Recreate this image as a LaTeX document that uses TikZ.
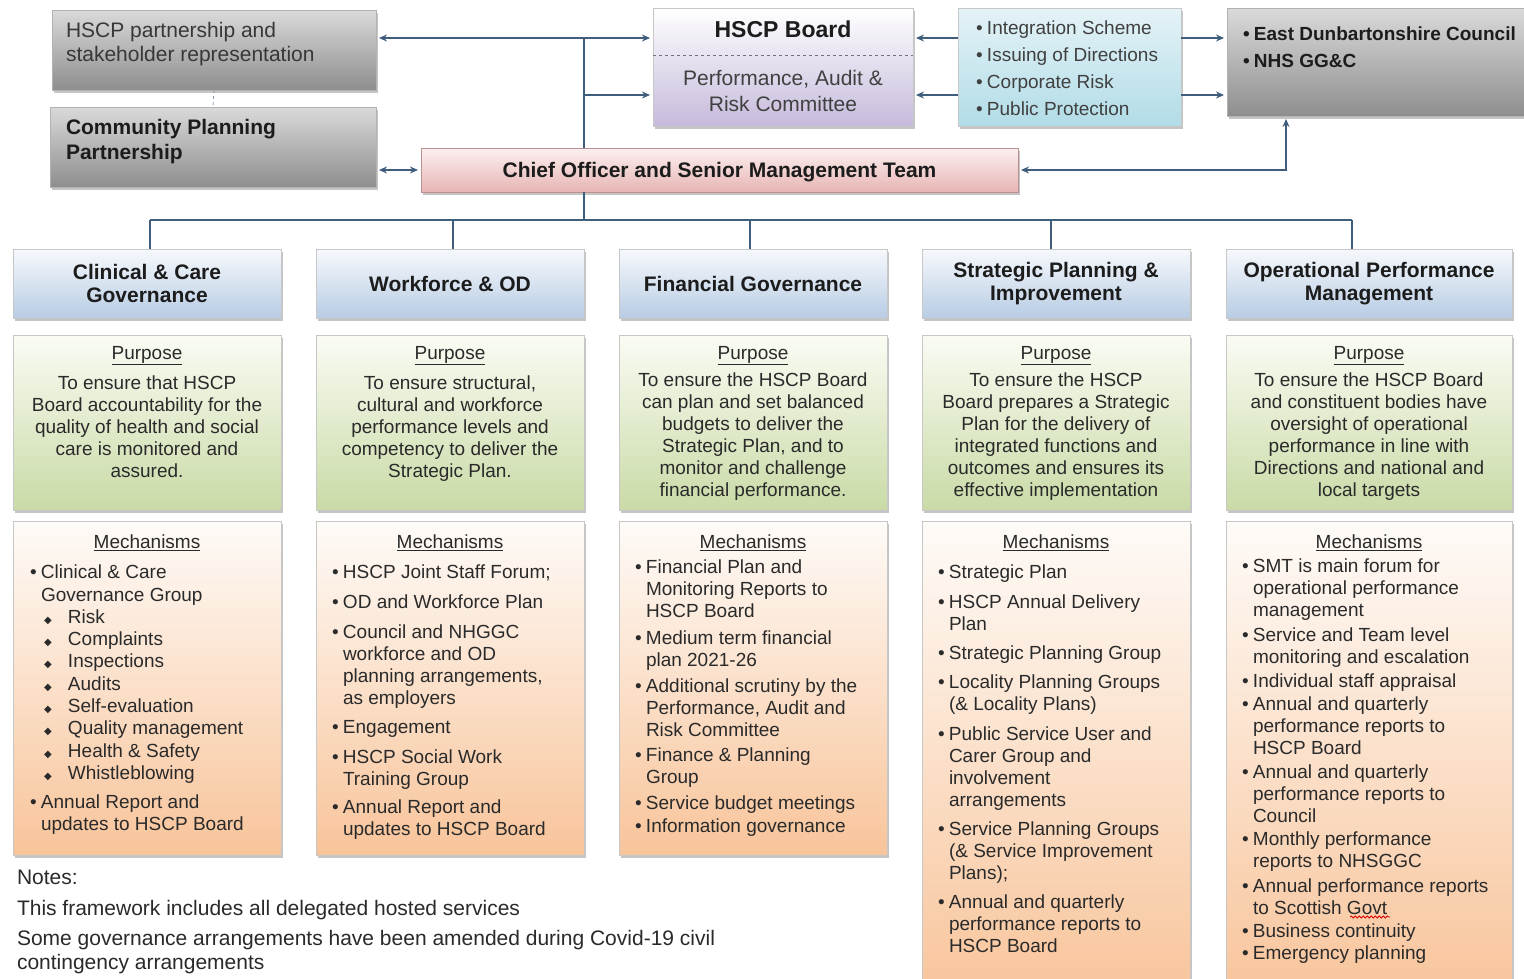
\documentclass[tikz,border=0pt]{standalone}
\usepackage{fontspec}
\setmainfont{Liberation Sans}
\newfontfamily\djv{DejaVu Sans}
\usetikzlibrary{arrows.meta,shadows,decorations.pathmorphing}
\definecolor{txt}{HTML}{2A2A2A}
\definecolor{htx}{HTML}{1C1C1C}
\definecolor{lnc}{HTML}{3F5E7C}
\definecolor{hdrT}{HTML}{F6F9FC}
\definecolor{hdrB}{HTML}{B8CCE4}
\definecolor{purT}{HTML}{FAFCF4}
\definecolor{purB}{HTML}{C9DAA6}
\definecolor{mecT}{HTML}{FEFBF8}
\definecolor{mecB}{HTML}{F8C49A}
\definecolor{chfT}{HTML}{FCF0F0}
\definecolor{chfB}{HTML}{E6B5B4}
\definecolor{brdM}{HTML}{E4DEEE}
\definecolor{brdB}{HTML}{C6BADB}
\definecolor{bluT}{HTML}{E4F3F7}
\definecolor{bluB}{HTML}{B2DCE7}
\definecolor{gryT}{HTML}{DADADA}
\definecolor{gryM}{HTML}{C6C6C6}
\definecolor{gryB}{HTML}{8E8E8E}
\newcommand\fsz[2]{\fontsize{#1}{#2}\selectfont}
\newcommand\bul{\makebox[11pt][l]{\textbullet}}
\newcommand\cnt{\hspace*{11pt}}
\newcommand\dia{\hspace*{14pt}\makebox[24pt][l]{{\djv\fontsize{10}{10}\selectfont\char"25C6}}}
\begin{document}
\begin{tikzpicture}[x=1pt,y=-1pt,
  every node/.style={inner sep=0pt,outer sep=0pt,text=txt},
  box/.style={draw=black!22,line width=0.6pt,anchor=north west,
    drop shadow={shadow xshift=2pt,shadow yshift=-3pt,fill=black!45,opacity=.5}},
  hdr/.style={box,top color=hdrT,bottom color=hdrB,minimum height=69},
  pur/.style={box,top color=purT,bottom color=purB,minimum height=175},
  mec/.style={box,top color=mecT,bottom color=mecB},
  gry/.style={box,draw=black!30,top color=gryT,middle color=gryM,bottom color=gryB},
  htext/.style={font=\fsz{21}{23}\bfseries,align=center,text=htx},
  ptext/.style={font=\fsz{19}{22},align=center,anchor=north},
  ltext/.style={font=\fsz{19}{22},align=left,anchor=north west},
  ln/.style={draw=lnc,line width=1.4pt},
  arr/.style={ln,-{Stealth[length=8pt,width=7pt]},shorten >=3pt},
  dbl/.style={ln,{Stealth[length=8pt,width=7pt]}-{Stealth[length=8pt,width=7pt]},shorten >=3pt,shorten <=3pt}
]
\useasboundingbox (0,0) rectangle (1524,978);
\fill[white] (0,0) rectangle (1524,978);
\clip (0,0) rectangle (1524,978);

% ---------- top row ----------
\node[gry,minimum width=324,minimum height=80] (p1) at (52,10) {};
\node[font=\fsz{21}{24},align=left,anchor=north west,text=black!78] (p1t) at (66,22)
  {HSCP partnership and\\stakeholder representation};
\node[gry,minimum width=326,minimum height=80] (cpp) at (50,107) {};
\node[font=\fsz{21}{25}\bfseries,align=left,anchor=north west,text=htx] (cppt) at (66,119)
  {Community Planning\\Partnership};
\draw[lnc!60,dashed,line width=0.8pt] (p1.south) -- (cpp.north);

\node[box,top color=white,middle color=brdM,bottom color=brdB,minimum width=260,minimum height=118] (brd) at (653,8) {};
\draw[black!55,dashed,line width=0.9pt] (653,55) -- (913,55);
\node[font=\fsz{23}{25}\bfseries,text=htx] (brdt) at (783,29) {HSCP Board};
\node[font=\fsz{21}{26},align=center,anchor=north,text=black!75] (brdb) at (783,70)
  {Performance, Audit \&\\Risk Committee};

\node[box,top color=bluT,bottom color=bluB,minimum width=223,minimum height=118] (bl) at (958,8) {};
\node[font=\fsz{19}{27},align=left,anchor=north west,text=black!75] (blt) at (976,21)
  {\bul Integration Scheme\\\bul Issuing of Directions\\\bul Corporate Risk\\\bul Public Protection};

\node[gry,minimum width=320,minimum height=108] (ed) at (1227,8) {};
\node[font=\fsz{19}{27}\bfseries,align=left,anchor=north west,text=htx] (edt) at (1243,27)
  {\bul East Dunbartonshire Council\\\bul NHS GG\&C};

\node[box,draw=chfB!80!black,top color=chfT,bottom color=chfB,minimum width=597,minimum height=44] (chief) at (421,148) {};
\node[htext] (chieft) at ([yshift=-2.5pt]chief.center) {Chief Officer and Senior Management Team};

% ---------- connectors top ----------
\coordinate (trunk) at (584,38);
\coordinate (yB) at (584,95);
\coordinate (bus) at (584,220);
\coordinate (gx) at (1286,0);
\draw[dbl] (p1.east |- trunk) -- (brd.west |- trunk);
\draw[ln] (trunk) -- (chief.north -| trunk);
\draw[arr] (yB) -- (brd.west |- yB);
\draw[arr] (bl.west |- trunk) -- (brd.east |- trunk);
\draw[arr] (bl.west |- yB) -- (brd.east |- yB);
\draw[arr] (bl.east |- trunk) -- (ed.west |- trunk);
\draw[arr] (bl.east |- yB) -- (ed.west |- yB);
\draw[dbl] (ed.south -| gx) |- (chief.east);
\draw[dbl] (cpp.east |- chief.west) -- (chief.west);

% ---------- headers ----------
\node[hdr,minimum width=268] (h1) at (13,249) {};
\node[hdr,minimum width=268] (h2) at (316,249) {};
\node[hdr,minimum width=268] (h3) at (619,249) {};
\node[hdr,minimum width=268] (h4) at (922,249) {};
\node[hdr,minimum width=286] (h5) at (1226,249) {};
\node[htext] (h1t) at (h1.center) {Clinical \& Care\\Governance};
\node[htext] (h2t) at (h2.center) {Workforce \& OD};
\node[htext] (h3t) at (h3.center) {Financial Governance};
\node[htext] (h4t) at (h4.center) {Strategic Planning \&\\Improvement};
\node[htext] (h5t) at (h5.center) {Operational Performance\\Management};

\coordinate (d1) at ([xshift=3pt]h1.north);
\coordinate (d2) at ([xshift=3pt]h2.north);
\coordinate (d3) at ([xshift=-3pt]h3.north);
\coordinate (d4) at ([xshift=-5pt]h4.north);
\coordinate (d5) at ([xshift=-17pt]h5.north);
\draw[ln] (chief.south -| trunk) -- (bus);
\draw[ln] (d1 |- bus) -- (d5 |- bus);
\foreach \d in {d1,d2,d3,d4,d5} \draw[ln] (\d |- bus) -- (\d);

% ---------- purpose ----------
\node[pur,minimum width=268] (u1) at (13,335) {};
\node[pur,minimum width=268] (u2) at (316,335) {};
\node[pur,minimum width=268] (u3) at (619,335) {};
\node[pur,minimum width=268] (u4) at (922,335) {};
\node[pur,minimum width=286] (u5) at (1226,335) {};
\node[ptext] (u1t) at (147,346) {\underline{Purpose}\\[8pt]To ensure that HSCP\\Board accountability for the\\quality of health and social\\care is monitored and\\assured.};
\node[ptext] (u2t) at (450,346) {\underline{Purpose}\\[8pt]To ensure structural,\\cultural and workforce\\performance levels and\\competency to deliver the\\Strategic Plan.};
\node[ptext] (u3t) at (753,346) {\underline{Purpose}\\[5pt]To ensure the HSCP Board\\can plan and set balanced\\budgets to deliver the\\Strategic Plan, and to\\monitor and challenge\\financial performance.};
\node[ptext] (u4t) at (1056,346) {\underline{Purpose}\\[5pt]To ensure the HSCP\\Board prepares a Strategic\\Plan for the delivery of\\integrated functions and\\outcomes and ensures its\\effective implementation};
\node[ptext] (u5t) at (1369,346) {\underline{Purpose}\\[5pt]To ensure the HSCP Board\\and constituent bodies have\\oversight of operational\\performance in line with\\Directions and national and\\local targets};

% ---------- mechanisms ----------
\node[mec,minimum width=268,minimum height=334] (m1) at (13,521) {};
\node[mec,minimum width=268,minimum height=334] (m2) at (316,521) {};
\node[mec,minimum width=268,minimum height=334] (m3) at (619,521) {};
\node[mec,minimum width=268,minimum height=480] (m4) at (922,521) {};
\node[mec,minimum width=286,minimum height=480] (m5) at (1226,521) {};
\node[ptext] (m1h) at (147,535) {\underline{Mechanisms}};
\node[ptext] (m2h) at (450,535) {\underline{Mechanisms}};
\node[ptext] (m3h) at (753,535) {\underline{Mechanisms}};
\node[ptext] (m4h) at (1056,535) {\underline{Mechanisms}};
\node[ptext] (m5h) at (1369,535) {\underline{Mechanisms}};

\node[ltext,font=\fsz{19}{22.3}] (m1l) at (30,565) {%
\bul Clinical \& Care\\
\cnt Governance Group\\
\dia Risk\\
\dia Complaints\\
\dia Inspections\\
\dia Audits\\
\dia Self-evaluation\\
\dia Quality management\\
\dia Health \& Safety\\
\dia Whistleblowing\\[6.7pt]
\bul Annual Report and\\
\cnt updates to HSCP Board};

\node[ltext] (m2l) at (332,565) {%
\bul HSCP Joint Staff Forum;\\[8pt]
\bul OD and Workforce Plan\\[8pt]
\bul Council and NHGGC\\
\cnt workforce and OD\\
\cnt planning arrangements,\\
\cnt as employers\\[7pt]
\bul Engagement\\[8pt]
\bul HSCP Social Work\\
\cnt Training Group\\[6pt]
\bul Annual Report and\\
\cnt updates to HSCP Board};

\node[ltext] (m3l) at (635,560) {%
\bul Financial Plan and\\
\cnt Monitoring Reports to\\
\cnt HSCP Board\\[5pt]
\bul Medium term financial\\
\cnt plan 2021-26\\[4pt]
\bul Additional scrutiny by the\\
\cnt Performance, Audit and\\
\cnt Risk Committee\\[3pt]
\bul Finance \& Planning\\
\cnt Group\\[4pt]
\bul Service budget meetings\\[1pt]
\bul Information governance};

\node[ltext] (m4l) at (938,565) {%
\bul Strategic Plan\\[8pt]
\bul HSCP Annual Delivery\\
\cnt Plan\\[7pt]
\bul Strategic Planning Group\\[7pt]
\bul Locality Planning Groups\\
\cnt (\& Locality Plans)\\[8pt]
\bul Public Service User and\\
\cnt Carer Group and\\
\cnt involvement\\
\cnt arrangements\\[7pt]
\bul Service Planning Groups\\
\cnt (\& Service Improvement\\
\cnt Plans);\\[7pt]
\bul Annual and quarterly\\
\cnt performance reports to\\
\cnt HSCP Board};

\node[ltext] (m5l) at (1242,559) {%
\bul SMT is main forum for\\
\cnt operational performance\\
\cnt management\\[3pt]
\bul Service and Team level\\
\cnt monitoring and escalation\\[2pt]
\bul Individual staff appraisal\\[1pt]
\bul Annual and quarterly\\
\cnt performance reports to\\
\cnt HSCP Board\\[2pt]
\bul Annual and quarterly\\
\cnt performance reports to\\
\cnt Council\\[1pt]
\bul Monthly performance\\
\cnt reports to NHSGGC\\[3pt]
\bul Annual performance reports\\
\cnt to Scottish Govt\\[1pt]
\bul Business continuity\\
\bul Emergency planning};
\draw[red!85!black,line width=0.8pt,decorate,decoration={snake,amplitude=1pt,segment length=4pt}] (1350,917) -- (1390,917);

% ---------- notes ----------
\node[font=\fsz{21}{24},align=left,anchor=north west] (notes) at (17,870) {%
Notes:\\[7pt]
This framework includes all delegated hosted services\\[6pt]
Some governance arrangements have been amended during Covid-19 civil\\
contingency arrangements};
\end{tikzpicture}
\end{document}
